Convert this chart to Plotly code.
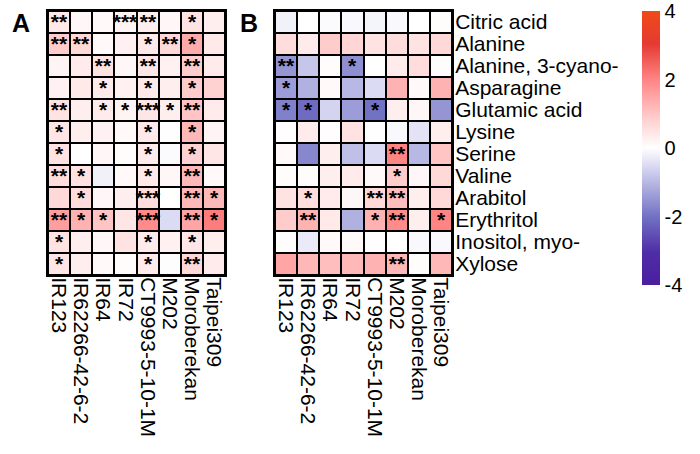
import plotly.graph_objects as go

cultivars = ["IR123", "IR62266-42-6-2", "IR64", "IR72", "CT9993-5-10-1M",
             "M202", "Moroberekan", "Taipei309"]
metabolites = ["Citric acid", "Alanine", "Alanine, 3-cyano-", "Asparagine",
               "Glutamic acid", "Lysine", "Serine", "Valine", "Arabitol",
               "Erythritol", "Inositol, myo-", "Xylose"]

values_a = [
    [0.4, 0.15, 0.1, 0.2, 0.3, 0.15, 0.5, 0.3],
    [0.9, 0.7, 0.1, 0.25, 0.4, 0.7, 1.4, 0.4],
    [0.2, 0.35, 0.5, 0.15, 0.45, 0.25, 0.9, 0.35],
    [0.25, 0.4, 0.35, 0.25, 0.4, 0.3, 0.9, 0.8],
    [0.5, 0.3, 0.35, 0.2, 0.45, 0.3, 1.0, 0.35],
    [0.45, 0.3, 0.25, 0.1, 0.4, 0.02, 1.2, 0.2],
    [0.5, 0.0, 0.15, 0.05, 0.35, -0.05, 0.8, 0.45],
    [0.6, 0.5, -0.2, 0.1, 0.4, 0.15, 1.2, 0.1],
    [0.7, 0.6, 0.15, 0.3, 0.6, 0.0, 1.2, 1.2],
    [1.6, 1.3, 1.0, 0.45, 1.9, -0.5, 1.5, 2.1],
    [0.5, 0.3, 0.15, 0.5, 0.35, 0.25, 0.45, 0.3],
    [0.45, 0.3, 0.1, 0.05, 0.35, -0.03, 0.7, 0.35],
]
stars_a = [
    ["**", "", "", "***", "**", "", "*", ""],
    ["**", "**", "", "", "*", "**", "*", ""],
    ["", "", "**", "", "**", "", "**", ""],
    ["", "", "*", "", "*", "", "*", ""],
    ["**", "", "*", "*", "***", "*", "**", ""],
    ["*", "", "", "", "*", "", "*", ""],
    ["*", "", "", "", "*", "", "*", ""],
    ["**", "*", "", "", "*", "", "**", ""],
    ["", "*", "", "", "***", "", "**", "*"],
    ["**", "*", "*", "", "***", "", "**", "*"],
    ["*", "", "", "", "*", "", "*", ""],
    ["*", "", "", "", "*", "", "**", ""],
]

values_b = [
    [-0.2, 0.0, -0.05, -0.1, -0.15, -0.1, 0.0, 0.05],
    [0.6, 0.35, 0.9, 0.75, 0.5, 0.6, 0.5, 0.7],
    [-1.5, -0.8, 0.05, -1.6, 0.0, 0.35, 0.6, 0.05],
    [-1.4, -1.1, 0.1, -1.0, -0.5, 1.3, 0.1, 1.3],
    [-1.8, -2.1, -0.6, -1.4, -2.0, 0.3, 0.15, -1.5],
    [0.03, 0.35, 0.03, 0.5, 0.02, -0.1, -0.4, 0.3],
    [0.1, -1.7, 0.3, -0.9, -0.5, 2.0, -1.0, 1.0],
    [0.05, 0.05, 0.3, 0.35, 0.1, 0.9, 0.15, 0.7],
    [0.5, 0.6, 0.35, 0.15, 0.7, 1.1, 0.3, 0.7],
    [0.9, 1.3, 0.4, -1.1, 1.3, 1.9, 0.3, 2.0],
    [0.05, -0.3, 0.1, 0.1, 0.03, 0.0, -0.1, -0.1],
    [1.5, 1.2, 1.1, 1.2, 1.3, 1.2, 0.05, 1.2],
]
stars_b = [
    ["", "", "", "", "", "", "", ""],
    ["", "", "", "", "", "", "", ""],
    ["**", "", "", "*", "", "", "", ""],
    ["*", "", "", "", "", "", "", ""],
    ["*", "*", "", "", "*", "", "", ""],
    ["", "", "", "", "", "", "", ""],
    ["", "", "", "", "", "**", "", ""],
    ["", "", "", "", "", "*", "", ""],
    ["", "*", "", "", "**", "**", "", ""],
    ["", "**", "", "", "*", "**", "", "*"],
    ["", "", "", "", "", "", "", ""],
    ["", "", "", "", "", "**", "", ""],
]

cbar_ticks = [4, 2, 0, -2, -4]
cbar_labels = ["4", "2", "0", "-2", "-4"]

colorscale = [
    [0.0, "#4A1FA0"],
    [0.12, "#4F2DA6"],
    [0.25, "#7272C4"],
    [0.4, "#C6C6EB"],
    [0.5, "#FFFFFF"],
    [0.6, "#FFD2D2"],
    [0.75, "#FF8484"],
    [0.88, "#E53A32"],
    [1.0, "#F04A18"],
]

FONT = "Liberation Sans, Arial, sans-serif"
W, H = 700, 454

star_font = dict(size=21, color="black", family=FONT, weight="bold")

fig = go.Figure()
fig.add_trace(go.Heatmap(
    z=values_a, x=cultivars, y=metabolites, text=stars_a,
    texttemplate="%{text}", textfont=star_font,
    colorscale=colorscale, zmin=-4, zmax=4, xgap=2, ygap=2,
    showscale=False, hoverinfo="skip", xaxis="x", yaxis="y"))
fig.add_trace(go.Heatmap(
    z=values_b, x=cultivars, y=metabolites, text=stars_b,
    texttemplate="%{text}", textfont=star_font,
    colorscale=colorscale, zmin=-4, zmax=4, xgap=2, ygap=2,
    hoverinfo="skip", xaxis="x2", yaxis="y2",
    colorbar=dict(
        thickness=18, thicknessmode="pixels",
        len=274, lenmode="pixels",
        x=642 / W, xanchor="left", xpad=0,
        y=1 - 11 / H, yanchor="top", ypad=0,
        outlinewidth=0, tickvals=cbar_ticks, ticktext=cbar_labels,
        ticks="", tickfont=dict(size=20, family=FONT, color="black"))))

ax_common = dict(showline=True, linecolor="black", linewidth=2, mirror=True,
                 ticks="", showgrid=False, zeroline=False)
ytop = 1 - 11 / H
ybot = 1 - 275 / H

fig.update_layout(
    width=W, height=H,
    margin=dict(l=0, r=0, t=0, b=0, autoexpand=False),
    paper_bgcolor="white", plot_bgcolor="black",
    font=dict(family=FONT, color="black"),
    xaxis=dict(domain=[48 / W, 225 / W], tickangle=90,
               tickmode="array", tickvals=cultivars, ticktext=cultivars,
               ticklabelstandoff=-4,
               tickfont=dict(size=21), anchor="y", **ax_common),
    yaxis=dict(domain=[ybot, ytop], autorange="reversed", showticklabels=False,
               anchor="x", **ax_common),
    xaxis2=dict(domain=[275 / W, 452 / W], tickangle=90,
                tickmode="array", tickvals=cultivars, ticktext=cultivars,
                ticklabelstandoff=-4,
                tickfont=dict(size=21), anchor="y2", **ax_common),
    yaxis2=dict(domain=[ybot, ytop], autorange="reversed", side="right",
                tickmode="array", tickvals=metabolites, ticktext=metabolites,
                ticklabelstandoff=-3,
                tickfont=dict(size=21), anchor="x2", **ax_common),
    annotations=[
        dict(text="<b>A</b>", x=21 / W, y=1 - 23 / H, xref="paper", yref="paper",
             xanchor="center", yanchor="middle",
             showarrow=False, font=dict(size=25, family=FONT)),
        dict(text="<b>B</b>", x=249 / W, y=1 - 23 / H, xref="paper", yref="paper",
             xanchor="center", yanchor="middle",
             showarrow=False, font=dict(size=25, family=FONT)),
    ],
)

fig.write_html("out.html",
               config={"displayModeBar": False},
               post_script="document.body.style.margin='0';")
